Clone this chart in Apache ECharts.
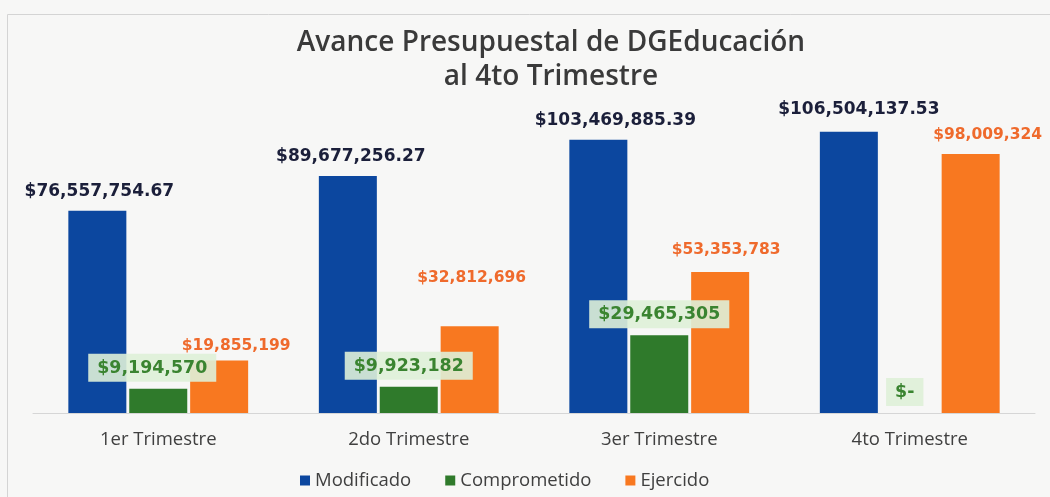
<!DOCTYPE html>
<html>
<head>
<meta charset="utf-8">
<script src="https://cdn.jsdelivr.net/npm/echarts@6/dist/echarts.min.js"></script>
<style>
  html, body { margin: 0; padding: 0; background: #f7f7f6; }
  #chart { width: 1050px; height: 497px; }
</style>
</head>
<body>
<div id="chart"></div>
<script>
const categories = ['1er Trimestre', '2do Trimestre', '3er Trimestre', '4to Trimestre']
const modificado = [76557754.67, 89677256.27, 103469885.39, 106504137.53]
const comprometido = [9194570, 9923182, 29465305, 0]
const ejercido = [19855199, 32812696, 53353783, 98009324]

// label nudges as placed by hand in the original (dx, dy)
const modShift = [[2, 0], [3, 0], [17, 0], [10, -3]]
const comShift = [[-6, 0], [0, 0], [0, 0], [-5, 0]]
const ejeShift = [[17, 0], [2, -33], [6, -7], [17, -4]]

const labelFont = 'DejaVu Sans'

const money = (v, dec) => '$' + v.toLocaleString('en-US', { minimumFractionDigits: dec, maximumFractionDigits: dec })

const withShift = (values, shifts) => values.map((v, i) => ({ value: v, label: { offset: shifts[i] } }))

const chart = echarts.init(document.getElementById('chart'))

const option = {
  backgroundColor: '#f7f7f6',
  textStyle: { fontFamily: 'Open Sans' },
  title: {
    text: 'Avance Presupuestal de DGEducación\nal 4to Trimestre',
    left: 546,
    textAlign: 'center',
    top: 21,
    textStyle: { fontSize: 28, fontWeight: 600, color: '#3a3a3a', lineHeight: 34, fontFamily: 'Open Sans' }
  },
  legend: {
    bottom: 2,
    left: 295,
    itemWidth: 10,
    itemHeight: 10,
    itemGap: 34,
    icon: 'rect',
    textStyle: { fontSize: 18.5, color: '#404040' }
  },
  grid: { left: 33, right: 15, top: 96, bottom: 84 },
  xAxis: {
    type: 'category',
    data: categories,
    axisLine: { lineStyle: { color: '#d6d6d6' } },
    axisTick: { show: false },
    axisLabel: { fontSize: 18.5, color: '#404040', margin: 17 }
  },
  yAxis: { type: 'value', min: 0, max: 120000000, show: false, splitLine: { show: false } },
  series: [
    {
      name: 'Modificado',
      type: 'bar',
      barWidth: 58,
      barGap: '5%',
      itemStyle: { color: '#0c479f' },
      data: withShift(modificado, modShift),
      label: {
        show: true,
        position: 'top',
        distance: 11,
        fontFamily: labelFont,
        fontSize: 17,
        fontWeight: 'bold',
        color: '#1b1f3a',
        formatter: p => money(p.value, 2)
      }
    },
    {
      name: 'Comprometido',
      type: 'bar',
      barWidth: 58,
      barGap: '5%',
      itemStyle: { color: '#2f7a2b' },
      data: withShift(comprometido, comShift),
      label: {
        show: true,
        position: 'top',
        distance: 7,
        fontFamily: labelFont,
        fontSize: 17.4,
        fontWeight: 'bold',
        color: '#3a8430',
        backgroundColor: 'rgba(222,240,216,0.9)',
        padding: [6, 9, 5, 9],
        formatter: p => p.value === 0 ? '$-' : money(p.value, 0)
      }
    },
    {
      name: 'Ejercido',
      type: 'bar',
      barWidth: 58,
      barGap: '5%',
      itemStyle: { color: '#f87820' },
      data: withShift(ejercido, ejeShift),
      label: {
        show: true,
        position: 'top',
        distance: 7,
        fontFamily: labelFont,
        fontSize: 15.5,
        fontWeight: 'bold',
        color: '#ef6a2c',
        formatter: p => money(p.value, 0)
      }
    }
  ],
  graphic: [
    {
      type: 'rect',
      left: 5,
      top: 12,
      shape: { width: 1060, height: 500 },
      style: { fill: 'none', stroke: '#d4d4d4', lineWidth: 1 },
      silent: true
    }
  ]
}

chart.setOption(option)
</script>
</body>
</html>
